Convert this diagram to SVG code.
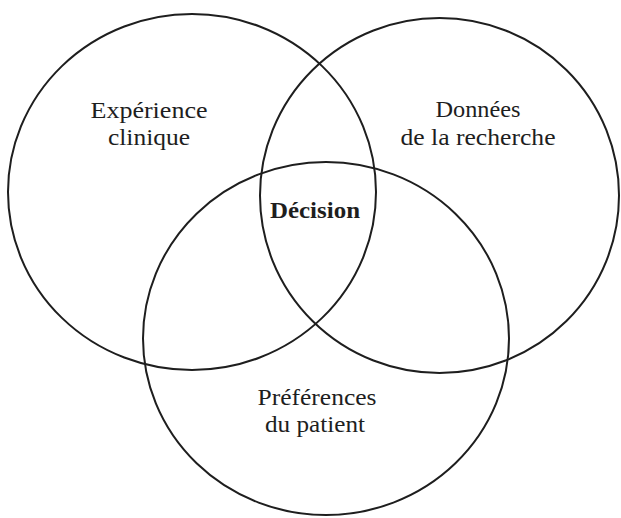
<svg xmlns="http://www.w3.org/2000/svg" width="621" height="518" viewBox="0 0 621 518">
<style>
.c{fill:none;stroke:#1e1e1e;stroke-width:2}
.t{font-family:"Liberation Serif","Times New Roman",serif;font-size:24px;fill:#1e1e1e;text-anchor:middle}
.b{font-weight:bold}
</style>
<rect width="621" height="518" fill="#ffffff"/>
<g id="connectors"></g>
<g id="experience">
<ellipse class="c" cx="192" cy="192" rx="184" ry="178"/>
<text class="t" x="149" y="118" textLength="117" lengthAdjust="spacingAndGlyphs">Expérience</text>
<text class="t" x="149" y="145" textLength="82" lengthAdjust="spacingAndGlyphs">clinique</text>
</g>
<g id="donnees">
<ellipse class="c" cx="439.5" cy="195.5" rx="179.5" ry="177.5"/>
<text class="t" x="478" y="117" textLength="85" lengthAdjust="spacingAndGlyphs">Données</text>
<text class="t" x="478" y="145" textLength="155" lengthAdjust="spacingAndGlyphs">de la recherche</text>
</g>
<g id="preferences">
<ellipse class="c" cx="326" cy="338.5" rx="183" ry="176.5"/>
<text class="t" x="317" y="405" textLength="119" lengthAdjust="spacingAndGlyphs">Préférences</text>
<text class="t" x="315" y="432" textLength="100" lengthAdjust="spacingAndGlyphs">du patient</text>
</g>
<g id="decision">
<text class="t b" x="315" y="218" textLength="90" lengthAdjust="spacingAndGlyphs">Décision</text>
</g>
</svg>
